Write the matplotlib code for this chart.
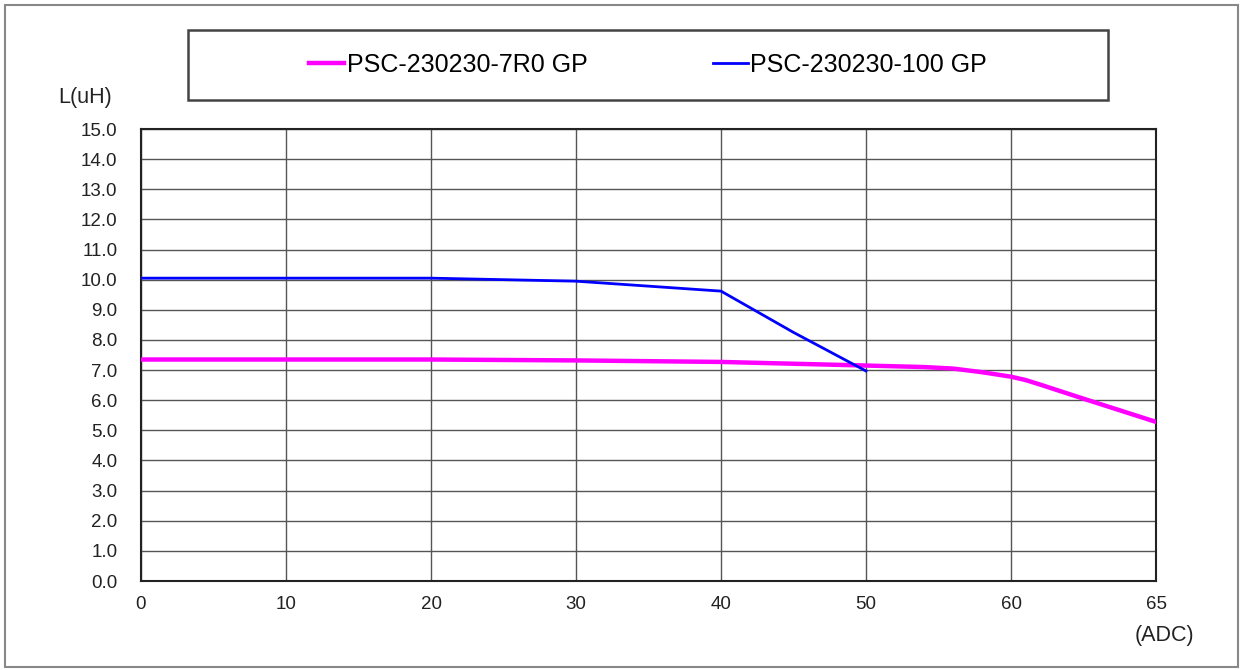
import numpy as np
import matplotlib.pyplot as plt
from matplotlib.patches import Rectangle

plt.rcParams['font.family'] = ['Liberation Sans', 'DejaVu Sans']

# current (A) and inductance (uH)
cur_7r0 = [0, 10, 20, 30, 40, 50, 54, 56, 58, 60, 60.5, 61, 62.5, 65]
ind_7r0 = [7.35, 7.35, 7.35, 7.32, 7.27, 7.15, 7.1, 7.05, 6.93, 6.78, 6.67, 6.52, 6.05, 5.28]
cur_100 = [0, 10, 20, 30, 40, 45, 50]
ind_100 = [10.05, 10.05, 10.05, 9.95, 9.62, 8.25, 6.97]
xticks = [0, 10, 20, 30, 40, 50, 60, 65]
yticks = np.arange(0, 15.1, 1.0)

# the last step 60->65 is drawn as wide as the others
def fwd(x):
    return np.interp(x, [0, 60, 65], [0, 60, 70])

def inv(x):
    return np.interp(x, [0, 60, 70], [0, 60, 65])

fig = plt.figure(figsize=(12.4, 6.7), dpi=100)
ax = fig.add_axes([141/1240, 1-581/670, (1156-141)/1240, (581-129)/670])
ax.set_xscale('function', functions=(fwd, inv))

l1, = ax.plot(cur_7r0, ind_7r0, color='#FF00FF', lw=3.2, solid_joinstyle='round', zorder=3)
l2, = ax.plot(cur_100, ind_100, color='#0000FF', lw=2.0, zorder=4)

ax.set_xlim(0, 65)
ax.set_ylim(0, 15)
ax.set_xticks(xticks)
ax.set_xticklabels([str(v) for v in xticks])
ax.set_yticks(yticks)
ax.set_yticklabels(['%.1f' % v for v in yticks])
ax.tick_params(axis='both', length=0, labelsize=13.5, colors='#222222')
ax.tick_params(axis='y', pad=17)
ax.tick_params(axis='x', pad=11)
ax.grid(True, color='#555555', lw=1.0)
for s in ax.spines.values():
    s.set_color('#222222')
    s.set_linewidth(1.5)

fig.text(85/1240, 1-97/670, 'L(uH)', fontsize=15.5, color='#222222', ha='center', va='center')
fig.text(1164/1240, 1-635/670, '(ADC)', fontsize=15.5, color='#222222', ha='center', va='center')

# legend box
fig.patches.append(Rectangle((188/1240, 1-100/670), 920/1240, 70/670, transform=fig.transFigure,
                             fill=False, edgecolor='#444444', lw=1.8))
fig.legend([l1, l2], ['PSC-230230-7R0 GP', 'PSC-230230-100 GP'], loc='center',
           bbox_to_anchor=(648/1240, 1-65/670), ncol=2, frameon=False, fontsize=18,
           handlelength=1.4, handletextpad=0.1, columnspacing=5.0)

# outer border
fig.patches.append(Rectangle((5/1240, 3/670), 1233/1240, 662/670, transform=fig.transFigure,
                             fill=False, edgecolor='#888888', lw=1.5))

fig.savefig('out.png', dpi=100)
